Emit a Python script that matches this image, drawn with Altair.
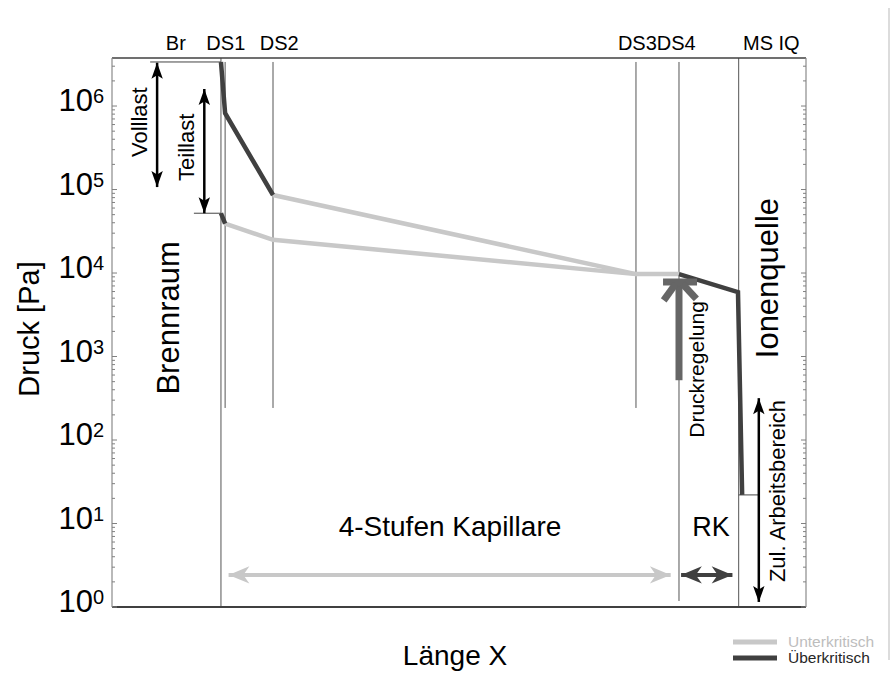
import altair as alt
import pandas as pd

FONT = "Liberation Sans"

# ---- plot geometry ----
W, H = 694, 549
X_MIN, X_MAX = 0.0, 100.0          # length along the flow path (relative units)
P_MIN, P_MAX = 1.0, 3.76e6         # pressure range [Pa]

# ---- stage boundaries (throttle stages DS1..DS4, mass spectrometer inlet) ----
stage_x = [15.7, 16.3, 23.2, 75.5, 81.7, 90.3]
stage_p_top = [3.76e6, 3.37e6, 3.37e6, 3.37e6, 3.37e6, 3.76e6]
stage_p_bottom = [1.0, 242, 242, 242, 1.18, 1.0]

# ---- labels above the plot ----
top_labels = ["Br", "DS1", "DS2", "DS3DS4", "MS IQ"]
top_label_x = [9.2, 16.4, 24.1, 78.5, 95.0]

# ---- pressure profiles [Pa] ----
# full load
full_over_x = [15.7, 16.3, 23.2]
full_over_p = [3.37e6, 8.2e5, 8.6e4]
full_under_x = [23.2, 75.5, 81.7]
full_under_p = [8.6e4, 9.7e3, 9.7e3]
# part load
part_over_x = [15.7, 16.3]
part_over_p = [5.2e4, 3.9e4]
part_under_x = [16.3, 23.2, 75.5]
part_under_p = [3.9e4, 2.5e4, 9.7e3]
# pressure-controlled stage into the ion source
ion_over_x = [81.7, 90.2, 90.8]
ion_over_p = [9.7e3, 5.9e3, 22]

# ---- thin level markers ----
marker_x = [5.5, 11.8, 90.3]
marker_x2 = [15.7, 15.7, 93.1]
marker_p = [3.37e6, 5.2e4, 22]

# ---- vertical range arrows (Volllast, Teillast, zul. Arbeitsbereich) ----
span_x = [6.5, 13.3, 93.2]
span_p_low = [1.07e5, 5.2e4, 1.15]
span_p_high = [3.3e6, 1.6e6, 317]

# ---- horizontal length arrows (capillary, RK) ----
cap_x = [16.8, 80.5]
rk_x = [82.0, 89.4]
len_arrow_p = 2.42

# ---- pressure control arrow ----
ctrl_x = [81.7, 79.4, 81.2, 82.2]
ctrl_x2 = [81.7, 84.3, 79.5, 84.2]
ctrl_p = [520, 7.8e3, 7.4e3, 7.4e3]
ctrl_p2 = [7.2e3, 7.8e3, 4.7e3, 4.9e3]

# ---- annotations ----
ann_text = ["Volllast", "Teillast", "Brennraum", "Ionenquelle", "Druckregelung",
            "Zul. Arbeitsbereich", "4-Stufen Kapillare", "RK"]
ann_x = [4.0, 10.8, 8.4, 94.7, 84.4, 96.0, 48.7, 86.3]
ann_p = [6.4e5, 3.2e5, 2.9e3, 8.7e3, 700, 24.5, 8.83, 8.83]
ann_size = [22, 22, 31, 31, 21, 22, 28, 27]
ann_angle = [270, 270, 270, 270, 270, 270, 0, 0]

# ---- axis ticks ----
decades = list(range(7))
minor_ticks = [k * 10 ** n for n in decades for k in range(2, 10) if k * 10 ** n < P_MAX]

series_names = ["Unterkritisch", "Überkritisch"]
series_colors = ["#c8c8c8", "#404040"]

xs = alt.Scale(domain=[X_MIN, X_MAX], nice=False, zero=False)
ys = alt.Scale(type="log", domain=[P_MIN, P_MAX], nice=False)


def X(f="x"):
    return alt.X(f"{f}:Q", scale=xs, axis=None)


def Y(f="p"):
    return alt.Y(f"{f}:Q", scale=ys, axis=None)


one = pd.DataFrame({"k": [0]})

# profile table
rows = []
for seg, kind, xv, pv in [
    ("full_over", "Überkritisch", full_over_x, full_over_p),
    ("full_under", "Unterkritisch", full_under_x, full_under_p),
    ("part_over", "Überkritisch", part_over_x, part_over_p),
    ("part_under", "Unterkritisch", part_under_x, part_under_p),
    ("ion_over", "Überkritisch", ion_over_x, ion_over_p),
]:
    for i, (a, b) in enumerate(zip(xv, pv)):
        rows.append({"seg": seg, "kind": kind, "x": a, "p": b, "i": i})
profiles = pd.DataFrame(rows)

stages = pd.DataFrame({"x": stage_x, "p": stage_p_bottom, "p2": stage_p_top})
markers = pd.DataFrame({"x": marker_x, "x2": marker_x2, "p": marker_p})
spans = pd.DataFrame({"x": span_x, "p": span_p_low, "p2": span_p_high})
heads_v = pd.DataFrame({
    "x": span_x + span_x,
    "p": span_p_high + span_p_low,
    "angle": [0] * 3 + [180] * 3,
})
ctrl = pd.DataFrame({"x": ctrl_x, "x2": ctrl_x2, "p": ctrl_p, "p2": ctrl_p2})
ann = pd.DataFrame({"t": ann_text, "x": ann_x, "p": ann_p, "size": ann_size, "angle": ann_angle})
tops = pd.DataFrame({"t": top_labels, "x": top_label_x})
majors = pd.DataFrame({"p": [10 ** n for n in decades], "e": [str(n) for n in decades]})
minors = pd.DataFrame({"p": minor_ticks})

HEAD_BLACK = "M0,0 L1,2.8 L0,2.2 L-1,2.8 Z"
HEAD_WIDE = "M0,0 L1,2.4 L0,1.7 L-1,2.4 Z"

layers = []

# stage boundary lines
layers.append(alt.Chart(stages).mark_rule(color="#555555", strokeWidth=1).encode(
    x=X(), y=Y(), y2=alt.Y2("p2:Q")))
# level markers
layers.append(alt.Chart(markers).mark_rule(color="#444444", strokeWidth=1).encode(
    x=X(), x2=alt.X2("x2:Q"), y=Y()))

# pressure profiles (sub-critical below, super-critical on top)
for name, col in zip(series_names, series_colors):
    layers.append(alt.Chart(profiles[profiles.kind == name]).mark_line(
        color=col, strokeWidth=4.5, strokeCap="butt", strokeJoin="miter").encode(
        x=X(), y=Y(), detail="seg:N", order="i:Q"))

# pressure control arrow
layers.append(alt.Chart(ctrl).mark_rule(color="#666666", strokeWidth=7, strokeCap="butt").encode(
    x=X(), x2=alt.X2("x2:Q"), y=Y(), y2=alt.Y2("p2:Q")))

# vertical range arrows
layers.append(alt.Chart(spans).mark_rule(color="#000000", strokeWidth=2.5).encode(
    x=X(), y=Y(), y2=alt.Y2("p2:Q")))
layers.append(alt.Chart(heads_v).mark_point(
    shape=HEAD_BLACK, filled=True, opacity=1, color="#000000", size=130, strokeWidth=0).encode(
    x=X(), y=Y(), angle=alt.Angle("angle:Q", scale=None)))

# horizontal length arrows
for xv, col, sz in [(cap_x, "#c8c8c8", 300), (rk_x, "#404040", 300)]:
    d = pd.DataFrame({"x": [xv[0]], "x2": [xv[1]], "p": [len_arrow_p]})
    layers.append(alt.Chart(d).mark_rule(color=col, strokeWidth=4).encode(
        x=X(), x2=alt.X2("x2:Q"), y=Y()))
    h = pd.DataFrame({"x": xv, "p": [len_arrow_p] * 2, "angle": [270, 90]})
    layers.append(alt.Chart(h).mark_point(
        shape=HEAD_WIDE, filled=True, opacity=1, color=col, size=sz, strokeWidth=0).encode(
        x=X(), y=Y(), angle=alt.Angle("angle:Q", scale=None)))

# annotations
layers.append(alt.Chart(ann).mark_text(font=FONT, color="#000000", align="center", baseline="middle").encode(
    x=X(), y=Y(), text="t:N", size=alt.Size("size:Q", scale=None),
    angle=alt.Angle("angle:Q", scale=None)))

# stage names above the plot
layers.append(alt.Chart(tops).mark_text(font=FONT, fontSize=20, color="#000000", baseline="middle").encode(
    x=X(), y=alt.value(-14), text="t:N"))

# frame
frame_col_dark, frame_col_light = "#404040", "#8a8a8a"
layers.append(alt.Chart(one).mark_rule(color=frame_col_dark, strokeWidth=1.5).encode(
    x=alt.value(0), x2=alt.value(W), y=alt.value(0)))
layers.append(alt.Chart(one).mark_rule(color=frame_col_dark, strokeWidth=2).encode(
    x=alt.value(0), x2=alt.value(W), y=alt.value(H)))
for xv in (0, W):
    layers.append(alt.Chart(one).mark_rule(color=frame_col_light, strokeWidth=1.2).encode(
        x=alt.value(xv), y=alt.value(0), y2=alt.value(H)))

# inward ticks on both sides
for d, ln in [(majors, 5), (minors, 3)]:
    layers.append(alt.Chart(d).mark_rule(color="#808080", strokeWidth=1).encode(
        x=alt.value(0), x2=alt.value(ln), y=Y()))
    layers.append(alt.Chart(d).mark_rule(color="#808080", strokeWidth=1).encode(
        x=alt.value(W - ln), x2=alt.value(W), y=Y()))

# decade labels 10^n
layers.append(alt.Chart(majors).mark_text(font=FONT, fontSize=31, align="right", baseline="alphabetic", dy=5,
                                          color="#000000").encode(
    x=alt.value(-19), y=Y(), text=alt.value("10")))
layers.append(alt.Chart(majors).mark_text(font=FONT, fontSize=20, align="left", baseline="alphabetic", dy=-3,
                                          color="#000000").encode(
    x=alt.value(-19), y=Y(), text="e:N"))

# axis titles
layers.append(alt.Chart(one).mark_text(font=FONT, fontSize=29, angle=270, align="center", baseline="middle",
                                       color="#000000").encode(
    x=alt.value(-82), y=alt.value(271), text=alt.value("Druck [Pa]")))
layers.append(alt.Chart(one).mark_text(font=FONT, fontSize=28, align="center", baseline="middle",
                                       color="#000000").encode(
    x=alt.value(343), y=alt.value(599), text=alt.value("Länge X")))

# legend
leg_y = [584, 600]
leg_text_col = ["#bdbdbd", "#262626"]
for name, col, tcol, yv in zip(series_names, series_colors, leg_text_col, leg_y):
    layers.append(alt.Chart(one).mark_rule(color=col, strokeWidth=5).encode(
        x=alt.value(621), x2=alt.value(665), y=alt.value(yv)))
    layers.append(alt.Chart(one).mark_text(font=FONT, fontSize=15.5, align="left", baseline="middle",
                                           color=tcol).encode(
        x=alt.value(676), y=alt.value(yv), text=alt.value(name)))

# page edge line
layers.append(alt.Chart(one).mark_rule(color="#dcdcdc", strokeWidth=2).encode(
    x=alt.value(777), y=alt.value(-50), y2=alt.value(602)))

chart = alt.layer(*layers).properties(
    width=W, height=H,
    padding={"left": 112, "top": 58, "right": 86, "bottom": 66},
    autosize=alt.AutoSizeParams(type="none"),
    background="#ffffff",
).configure_view(stroke=None)

chart.save("out.html", embed_options={"renderer": "svg", "actions": False})
